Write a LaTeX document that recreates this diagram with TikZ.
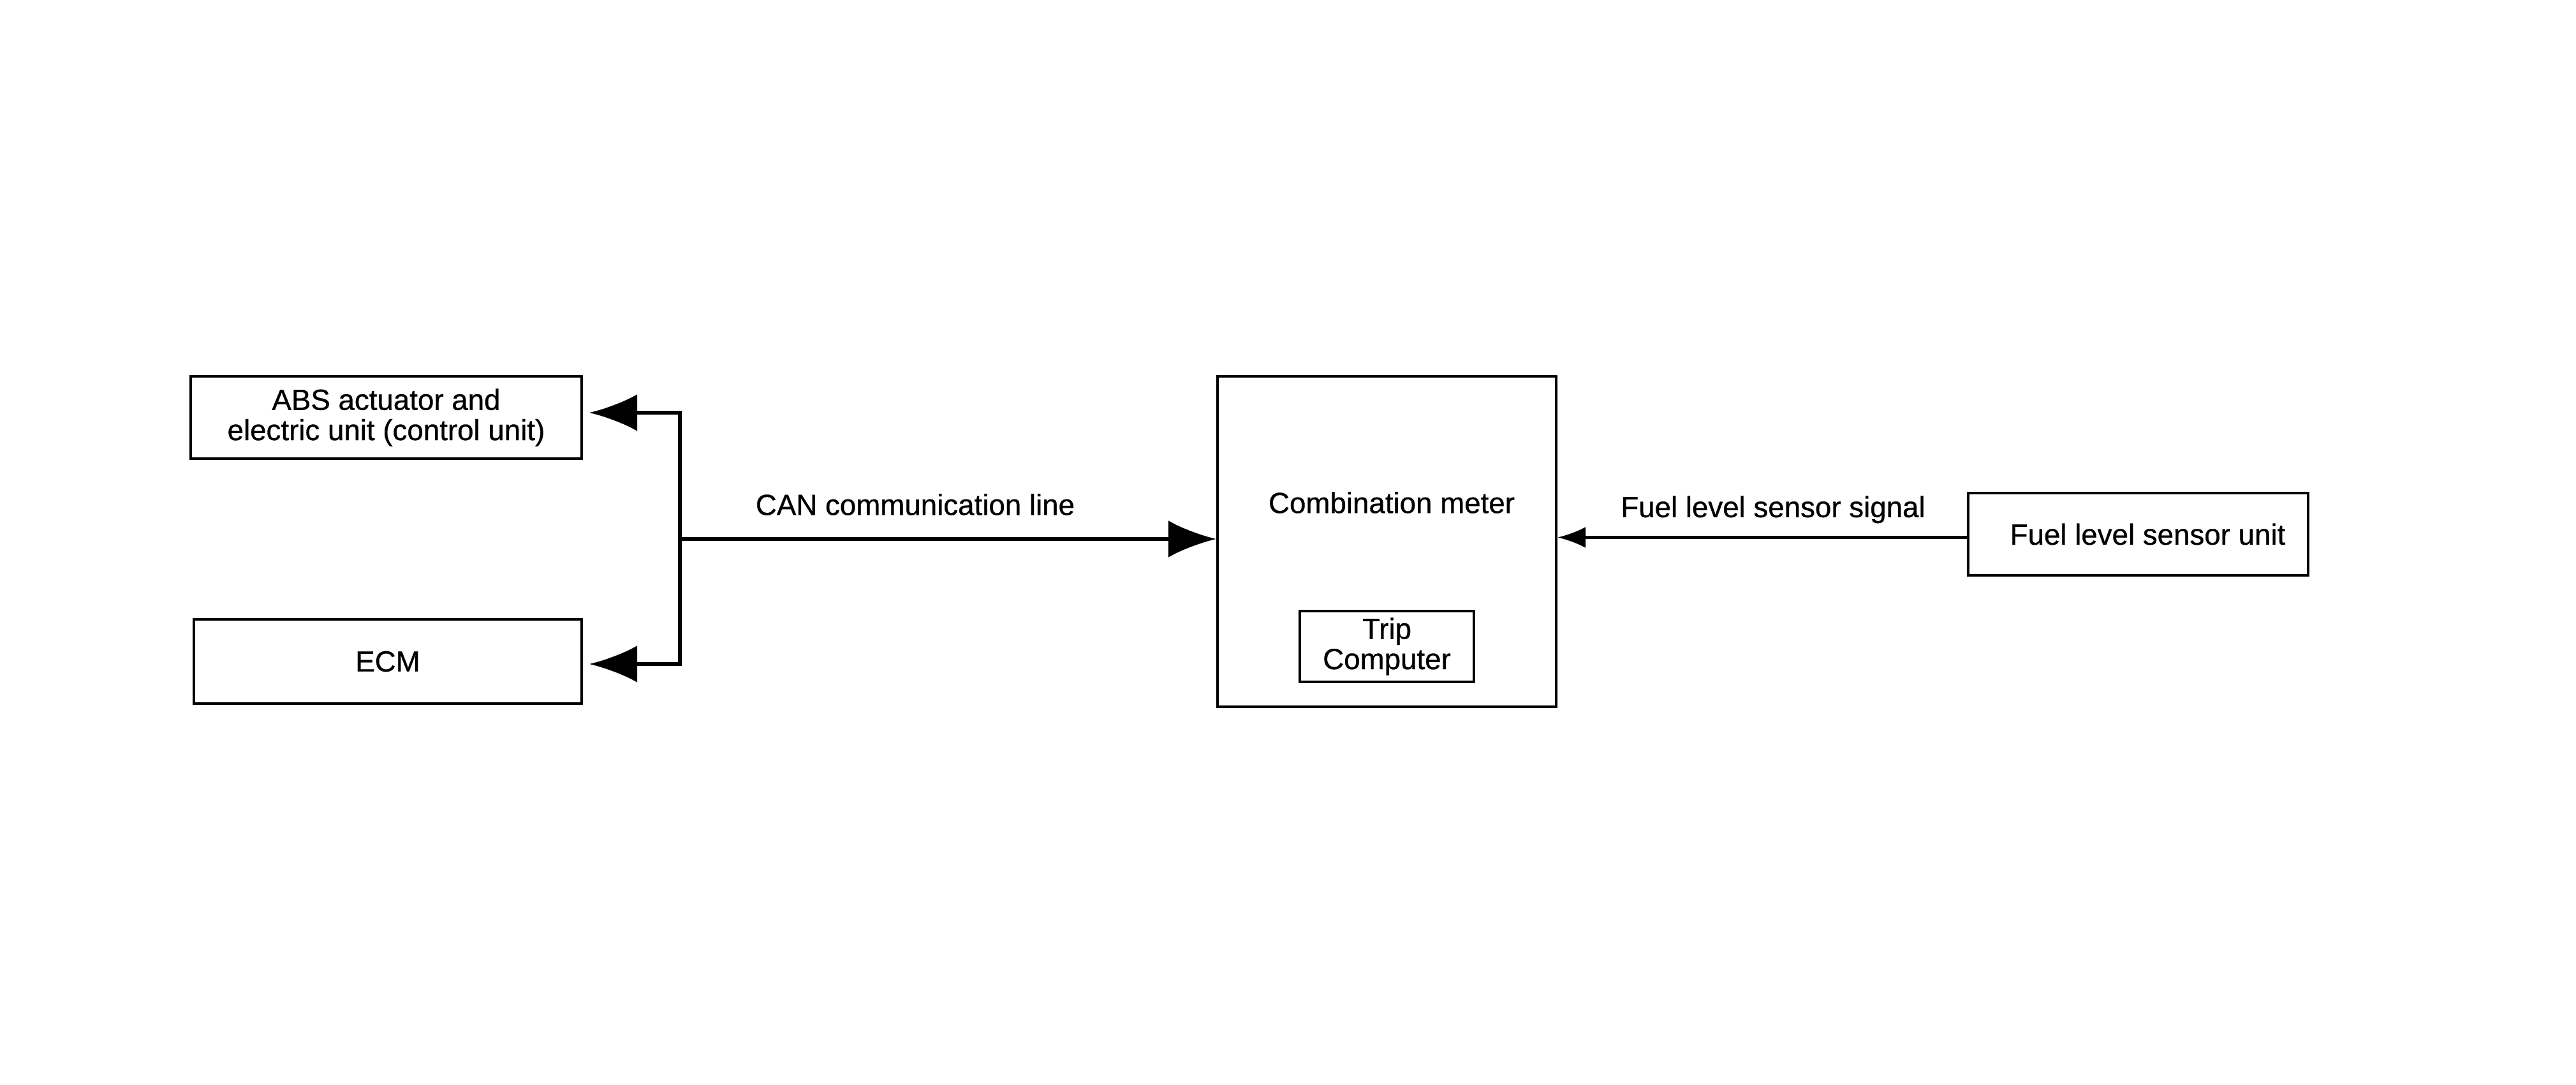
\documentclass[tikz,border=0pt]{standalone}
\usepackage{fontspec}
\setmainfont{Liberation Sans}[BoldFont=Liberation Sans, BoldFeatures={FakeBold=0.7}]
\usetikzlibrary{arrows.meta}
\begin{document}
\begin{tikzpicture}[every node/.style={font=\fontsize{13}{13.5}\selectfont\bfseries},
  unitbox/.style={draw, line width=1.2pt, align=center, inner sep=0pt},
  canline/.style={line width=1.8pt, -{Latex[length=0.75cm, width=0.58cm]}},
  sigline/.style={line width=1.2pt, -{Latex[length=0.44cm, width=0.33cm]}}]
	\useasboundingbox (0,0) rectangle (40.39,-17.01);
	
	% 左侧控制单元
	\node[unitbox, minimum width=6.13cm, minimum height=1.29cm] (abs) at (6.055,-6.545) {ABS actuator and\\electric unit (control unit)};
	\node[unitbox, minimum width=6.08cm, minimum height=1.32cm] (ecm) at (6.08,-10.37) {ECM};
	
	% 组合仪表及行车电脑
	\node[unitbox, minimum width=5.31cm, minimum height=5.18cm] (meter) at (21.745,-8.49) {};
	\node (metertxt) at (21.82,-7.88) {Combination meter};
	\node[unitbox, minimum width=2.73cm, minimum height=1.11cm] (trip) at (21.745,-10.135) {Trip\\Computer};
	
	% 燃油液位传感器
	\node[unitbox, minimum width=5.33cm, minimum height=1.29cm] (fuel) at (33.525,-8.375) {\hspace{0.3cm}Fuel level sensor unit};
	
	% CAN 总线
	\coordinate (bus) at (10.66,-8.45);
	\draw[canline] (bus) -- (bus -| meter.west);
	\draw[canline, shorten >=0.1cm] (bus) |- ([yshift=0.075cm]abs.east);
	\draw[canline, shorten >=0.1cm] (bus) |- ([yshift=-0.04cm]ecm.east);
	\node (canlbl) at (14.35,-7.91) {CAN communication line};
	
	% 燃油信号
	\draw[sigline] ([yshift=-0.05cm]fuel.west) -- ([yshift=-0.05cm]fuel.west -| meter.east);
	\node (fuellbl) at (27.80,-7.99) {Fuel level sensor signal};
\end{tikzpicture}
\end{document}
